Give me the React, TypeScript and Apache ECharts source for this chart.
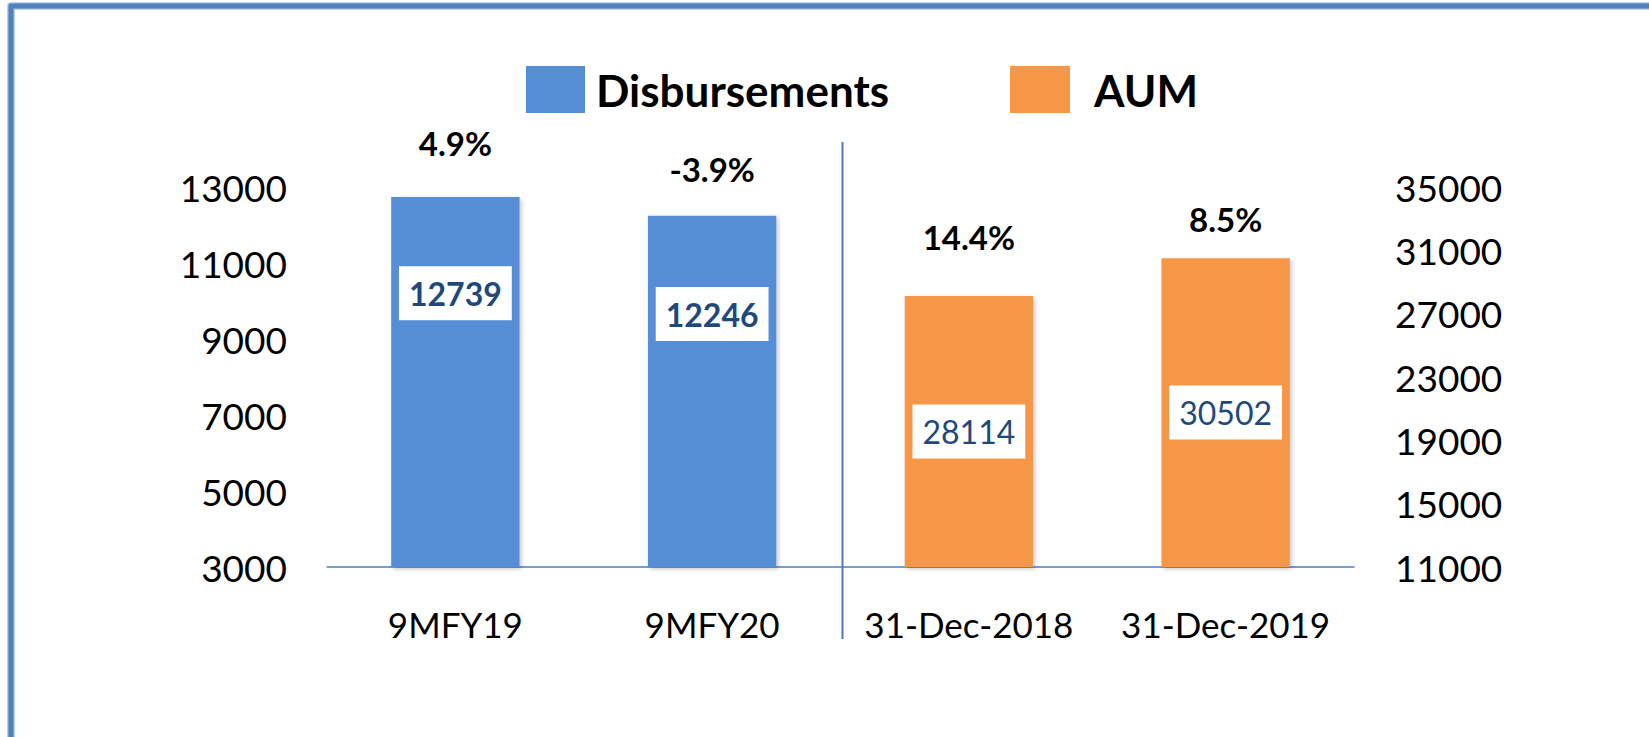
import React, { useEffect, useRef } from 'react';
import * as echarts from 'echarts';

// ---- data ----
const categories = ['9MFY19', '9MFY20', '31-Dec-2018', '31-Dec-2019'];
const disbursements: (number | null)[] = [12739, 12246, null, null];
const aum: (number | null)[] = [null, null, 28114, 30502];
const growthLabels = ['4.9%', '-3.9%', '14.4%', '8.5%'];
const leftAxis = { min: 3000, max: 13000, interval: 2000 };
const rightAxis = { min: 11000, max: 35000, interval: 4000 };

// ---- label placement (style only) ----
const growthGap = [54, 47, 59, 39];
const disbLabelY = ['26%', '28%'];

const FONT = 'Lato, "Open Sans", sans-serif';
const BLUE = '#558ED5';
const ORANGE = '#F79646';
const LABEL_BLUE = '#1F497D';

export default function App() {
  const ref = useRef<HTMLDivElement>(null);
  useEffect(() => {
    if (!ref.current) return;
    const chart = echarts.init(ref.current, undefined, { renderer: 'svg' });
    const shadow = {
      shadowColor: 'rgba(0,0,0,0.22)',
      shadowBlur: 4,
      shadowOffsetX: 2,
      shadowOffsetY: 2,
    };
    const valueBox = {
      show: true,
      backgroundColor: '#fff',
      padding: [11, 10, 11, 10],
      color: LABEL_BLUE,
      fontFamily: FONT,
      fontSize: 32,
      lineHeight: 32,
      align: 'center',
      verticalAlign: 'middle',
    };
    const plain = (v: number) => String(v);
    const growthSeries = (vals: (number | null)[], yIndex: number) => ({
      type: 'bar',
      name: 'growth' + yIndex,
      yAxisIndex: yIndex,
      barWidth: '50%',
      barGap: '-100%',
      silent: true,
      itemStyle: { color: 'rgba(0,0,0,0)' },
      data: vals.map((v, i) =>
        v == null
          ? '-'
          : {
              value: v,
              label: {
                show: true,
                position: 'top',
                distance: growthGap[i],
                verticalAlign: 'middle',
                formatter: growthLabels[i],
                fontFamily: FONT,
                fontWeight: 'bold',
                fontSize: 33,
                color: '#000',
              },
            }
      ),
      z: 3,
    });

    chart.setOption({
      animation: false,
      backgroundColor: '#fff',
      grid: { left: 327, width: 1027, top: 187, height: 380 },
      legend: [
        {
          data: ['Disbursements'],
          left: 526,
          top: 66,
          padding: 0,
          itemWidth: 59,
          itemHeight: 47,
          icon: 'rect',
          selectedMode: false,
          textStyle: { fontFamily: FONT, fontWeight: 'bold', fontSize: 44, color: '#000', padding: [0, 0, 0, 6] },
        },
        {
          data: ['AUM'],
          left: 1010,
          top: 66,
          padding: 0,
          itemWidth: 60,
          itemHeight: 47,
          icon: 'rect',
          selectedMode: false,
          textStyle: { fontFamily: FONT, fontWeight: 'bold', fontSize: 44, color: '#000', padding: [0, 0, 0, 19] },
        },
      ],
      xAxis: {
        type: 'category',
        data: categories,
        axisTick: { show: false },
        axisLine: { lineStyle: { color: '#4A7EBB', width: 1.5 } },
        axisLabel: { interval: 0, fontFamily: FONT, fontSize: 35, color: '#000', margin: 39 },
      },
      yAxis: [
        {
          type: 'value',
          position: 'left',
          min: leftAxis.min,
          max: leftAxis.max,
          interval: leftAxis.interval,
          axisLine: { show: false },
          axisTick: { show: false },
          splitLine: { show: false },
          axisLabel: { formatter: plain, fontFamily: FONT, fontSize: 37, color: '#000', margin: 40 },
        },
        {
          type: 'value',
          position: 'right',
          min: rightAxis.min,
          max: rightAxis.max,
          interval: rightAxis.interval,
          axisLine: { show: false },
          axisTick: { show: false },
          splitLine: { show: false },
          axisLabel: { formatter: plain, fontFamily: FONT, fontSize: 37, color: '#000', margin: 41 },
        },
      ],
      series: [
        {
          type: 'bar',
          name: 'Disbursements',
          yAxisIndex: 0,
          barWidth: '50%',
          barGap: '-100%',
          itemStyle: { color: BLUE, ...shadow },
          data: disbursements.map((v, i) =>
            v == null
              ? '-'
              : {
                  value: v,
                  label: { ...valueBox, fontWeight: 'bold', position: ['50%', disbLabelY[i]] },
                }
          ),
          z: 2,
        },
        {
          type: 'bar',
          name: 'AUM',
          yAxisIndex: 1,
          barWidth: '50%',
          barGap: '-100%',
          itemStyle: { color: ORANGE, ...shadow },
          label: { ...valueBox, fontWeight: 'normal', position: 'inside' },
          data: aum.map((v) => (v == null ? '-' : v)),
          z: 2,
        },
        growthSeries(disbursements, 0),
        growthSeries(aum, 1),
      ],
      graphic: [
        {
          type: 'polyline',
          shape: { points: [[11, 760], [11, 6], [1670, 6]] },
          style: { fill: 'none', stroke: '#A7C0E4', lineWidth: 7.5, lineJoin: 'round' },
          z: 10,
        },
        {
          type: 'polyline',
          shape: { points: [[11, 760], [11, 6], [1670, 6]] },
          style: { fill: 'none', stroke: '#4F81BD', lineWidth: 5, lineJoin: 'round' },
          z: 11,
        },
        {
          type: 'line',
          shape: { x1: 842.5, y1: 142, x2: 842.5, y2: 639 },
          style: { stroke: '#4A7EBB', lineWidth: 2 },
          z: 10,
        },
      ],
    });
    return () => chart.dispose();
  }, []);
  return (
    <div
      ref={ref}
      style={{ position: 'fixed', left: 0, top: 0, width: 1649, height: 737, background: '#fff' }}
    />
  );
}
